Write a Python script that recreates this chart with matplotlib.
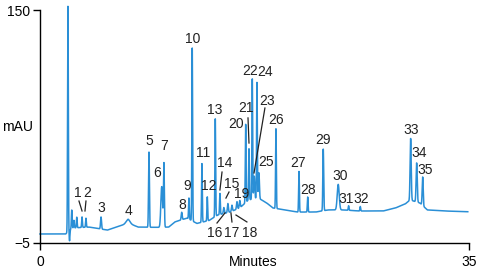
import numpy as np
import matplotlib.pyplot as plt

plt.rcParams['font.family'] = ['Liberation Sans Narrow', 'Liberation Sans', 'DejaVu Sans']

# peaks: retention time (min), height above baseline (mAU), width (min)
peak_time = [2.28, 2.41, 2.59, 2.77, 3.00, 3.43, 3.75, 4.98, 7.18, 8.89, 9.93, 10.11,
             11.56, 12.15, 12.42, 13.21, 13.65, 14.30, 14.68, 15.00, 15.33, 15.66, 16.07,
             16.30, 16.78, 17.05, 17.32, 17.48, 17.70, 17.86, 19.25, 21.13, 21.84, 23.11,
             24.33, 25.18, 26.13, 30.24, 30.73, 31.22]
peak_height = [150, -7, 12, 5, 7, 7, 6, 8, 2.5, 50, 27, 42,
               5, 14, 115, 39, 16, 65, 14, 4, 6, 4, 5,
               5, 52, 34, 80, 15, 77, 17, 53, 27, 10, 41,
               17, 3, 3, 41, 26, 19]
peak_width = [0.03, 0.03, 0.03, 0.03, 0.03, 0.03, 0.03, 0.04, 0.15, 0.035, 0.07, 0.035,
              0.04, 0.03, 0.03, 0.03, 0.03, 0.03, 0.03, 0.04, 0.04, 0.04, 0.04,
              0.04, 0.03, 0.03, 0.03, 0.04, 0.03, 0.04, 0.03, 0.03, 0.03, 0.035,
              0.08, 0.03, 0.03, 0.045, 0.045, 0.04]

# baseline knots (min, mAU)
base_t = [0, 2.1, 2.6, 4.0, 5.5, 6.5, 7.2, 8.0, 9.5, 10.5, 11.0, 12.0, 12.8, 13.8, 14.5,
          15.5, 16.3, 17.0, 17.8, 18.5, 19.0, 20.0, 21.0, 22.5, 23.5, 24.8, 26.0, 28.0,
          29.0, 29.8, 30.2, 31.0, 31.6, 33.0, 34.9]
base_v = [1.0, 1.0, 5.0, 5.6, 3.6, 6.3, 8.3, 5.6, 5.4, 5.6, 9.0, 11.6, 8.0, 10.0, 13.6,
          15.6, 18.3, 23.6, 25.0, 21.6, 18.3, 17.0, 15.6, 15.6, 17.0, 17.0, 16.3, 16.3,
          18.3, 21.0, 23.6, 21.6, 17.0, 16.3, 15.8]

labels = [str(i) for i in range(1, 36)]
label_x = [3.10, 3.83, 4.98, 7.18, 8.89, 9.54, 10.11, 11.58, 11.99, 12.48, 13.30, 13.78,
           14.27, 15.09, 15.66, 14.27, 15.66, 17.13, 16.48, 15.99, 16.80, 17.13, 18.52,
           18.35, 18.43, 19.25, 21.04, 21.86, 23.08, 24.47, 24.98, 26.22, 30.26, 30.91, 31.40]
label_y = [28.3, 28.3, 18.3, 16.3, 62.9, 41.6, 59.5, 20.3, 32.9, 130.7, 54.9, 32.9,
           83.5, 48.2, 34.3, 1.6, 1.6, 1.6, 27.6, 74.2, 84.8, 109.4, 89.5,
           108.8, 48.9, 76.8, 48.2, 30.3, 63.5, 39.6, 24.3, 24.3, 70.2, 54.9, 43.6]

# leader lines: (x0, y0, x1, y1)
leaders = [(3.18, 22.9, 3.43, 16.3), (3.75, 22.9, 3.67, 16.3),
           (14.85, 42.2, 14.68, 30.3), (15.42, 28.9, 15.17, 24.9),
           (14.44, 8.3, 15.09, 15.0), (15.66, 9.0, 15.58, 15.0),
           (16.88, 9.0, 15.99, 13.6), (16.97, 78.2, 17.05, 61.5),
           (18.35, 84.8, 17.46, 41.6)]

t = np.linspace(0, 34.9, 6981)
signal = np.interp(t, base_t, base_v)
for pt, ph, pw in zip(peak_time, peak_height, peak_width):
    signal = signal + ph * np.exp(-0.5 * ((t - pt) / pw) ** 2)

fig = plt.figure(figsize=(4.78, 2.70), dpi=100)
ax = fig.add_axes([40 / 478, 1 - 243 / 270, 429 / 478, 233 / 270])

ax.plot(t, signal, color='#2a8fd6', linewidth=1.1, clip_on=False)

txt = '#222222'
for lab, lx, ly in zip(labels, label_x, label_y):
    ax.text(lx, ly, lab, ha='center', va='center', fontsize=10, color=txt)
for x0, y0, x1, y1 in leaders:
    ax.plot([x0, x1], [y0, y1], color=txt, linewidth=0.9)

ax.set_xlim(0, 35)
ax.set_ylim(-5, 150)
ax.set_xticks([0, 35])
ax.set_yticks([-5, 150])
ax.set_yticklabels(['\u22125', '150'])
ax.tick_params(direction='out', length=5, width=1, labelsize=10, colors='black', pad=2)
ax.tick_params(axis='x', pad=4)
for s in ['top', 'right']:
    ax.spines[s].set_visible(False)
for s in ['left', 'bottom']:
    ax.spines[s].set_linewidth(1)

fig.text(18 / 478, 1 - 127 / 270, 'mAU', ha='center', va='center', fontsize=10)
fig.text(253 / 478, 1 - 262 / 270, 'Minutes', ha='center', va='center', fontsize=10)

fig.savefig('out.png', dpi=100)
